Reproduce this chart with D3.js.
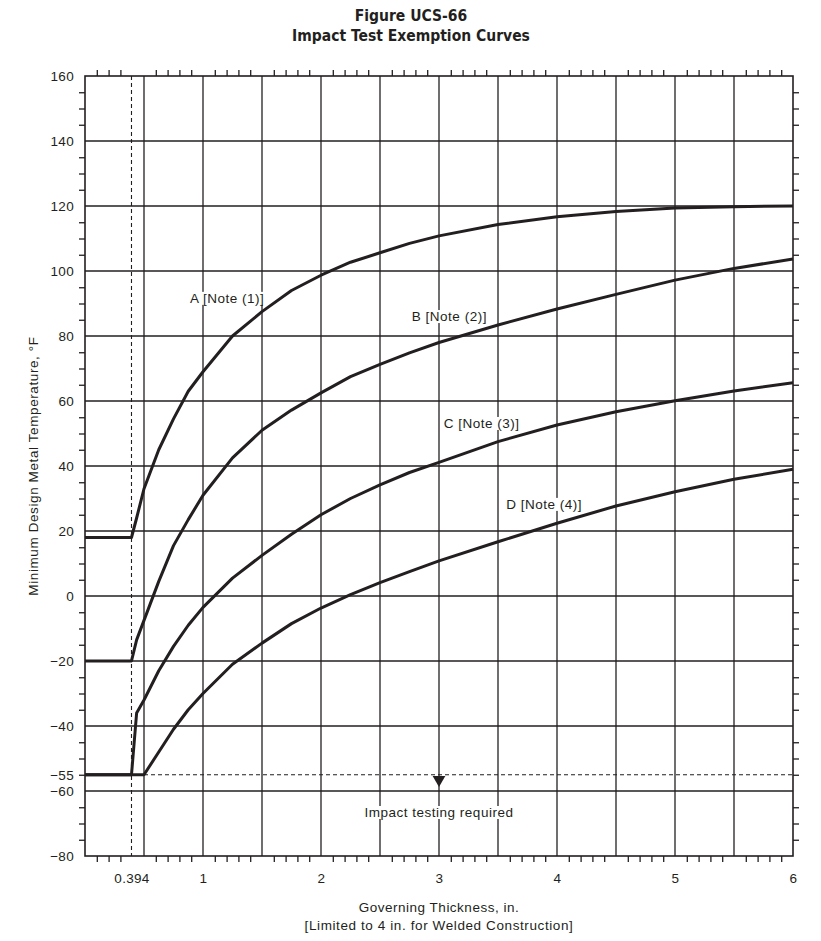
<!DOCTYPE html>
<html>
<head>
<meta charset="utf-8">
<script src="https://cdn.jsdelivr.net/npm/d3@7"></script>
<style>
  body { margin: 0; background: #fff; }
  svg text { font-family: "Liberation Sans", Arial, sans-serif; fill: #231f20; }
  .title { font-family: "Liberation Sans Narrow", "DejaVu Sans Condensed", sans-serif; font-weight: bold; font-size: 15.5px; }
  .grid line { stroke: #231f20; stroke-width: 1.3; }
  .curve { fill: none; stroke: #231f20; stroke-width: 3; stroke-linejoin: round; }
</style>
</head>
<body>
<svg width="821" height="941"></svg>
<script>
// thickness (in.) shared by all four curves
const thickness = [0, 0.394, 0.4375, 0.5, 0.625, 0.75, 0.875, 1, 1.25, 1.5, 1.75, 2, 2.25, 2.5, 2.75, 3, 3.5, 4, 4.5, 5, 5.5, 6];
// minimum design metal temperature (°F)
const curveA = [18, 18, 24, 33, 45, 54.5, 63, 69, 80, 87.5, 94, 98.7, 102.7, 105.6, 108.5, 110.8, 114.3, 116.7, 118.3, 119.4, 119.8, 120];
const curveB = [-20, -20, -13.5, -7.5, 4.5, 15.5, 23.5, 31, 42.5, 51, 57.2, 62.5, 67.5, 71.3, 74.8, 78, 83.4, 88.3, 92.8, 97.2, 100.8, 103.7];
const curveC = [-55, -55, -36, -32, -23, -15.5, -9, -3.5, 5.5, 12.5, 19, 25, 30, 34.2, 38, 41.1, 47.5, 52.6, 56.7, 60.1, 63.1, 65.6];
const curveD = [-55, -55, -55, -55, -48, -41, -35, -30, -21, -14.5, -8.5, -3.7, 0.4, 4.1, 7.5, 10.8, 16.7, 22.4, 27.7, 32.1, 35.9, 39];
const curveNames = ["A [Note (1)]", "B [Note (2)]", "C [Note (3)]", "D [Note (4)]"];
// where each curve's label starts: [thickness, temperature at baseline]
const labelAt = [[0.89, 90.2], [2.77, 84.6], [3.04, 51.7], [3.57, 26.8]];

const xTickVals = [0.394, 1, 2, 3, 4, 5, 6];
const yTickVals = [-80, -60, -55, -40, -20, 0, 20, 40, 60, 80, 100, 120, 140, 160];
const exemptLimit = -55;

const svg = d3.select("svg");
const margin = { top: 76, right: 28, bottom: 85, left: 85 };
const width = 821 - margin.left - margin.right;
const height = 941 - margin.top - margin.bottom;

const x = d3.scaleLinear().domain([0, 6]).range([0, width]);
const y = d3.scaleLinear().domain([-80, 160]).range([height, 0]);

const g = svg.append("g").attr("transform", `translate(${margin.left},${margin.top})`);

// title
svg.append("text").attr("class", "title").attr("x", 411).attr("y", 21)
    .attr("text-anchor", "middle").text("Figure UCS-66");
svg.append("text").attr("class", "title").attr("x", 411).attr("y", 41)
    .attr("text-anchor", "middle").text("Impact Test Exemption Curves");

// grid
const grid = g.append("g").attr("class", "grid");
grid.selectAll(".v").data(d3.range(0.5, 6, 0.5)).join("line")
    .attr("x1", d => x(d)).attr("x2", d => x(d)).attr("y1", 0).attr("y2", height);
grid.selectAll(".h").data(d3.range(-60, 160, 20)).join("line")
    .attr("class", "h")
    .attr("x1", 0).attr("x2", width).attr("y1", d => y(d)).attr("y2", d => y(d));

// minor ticks, pointing inward on all four sides
const minorX = d3.range(1, 60).map(i => i / 10).filter(d => Math.round(d * 10) % 5 !== 0 && Math.round(d * 10) !== 4);
const minorY = d3.range(-75, 160, 5).filter(d => d % 20 !== 0);
g.append("g").call(d3.axisTop(x).tickValues(minorX).tickSize(-6).tickFormat(""))
    .attr("transform", `translate(0,${height})`);
g.append("g").call(d3.axisBottom(x).tickValues(minorX).tickSize(-6).tickFormat(""));
g.append("g").call(d3.axisRight(y).tickValues(minorY).tickSize(-6).tickFormat(""));
g.append("g").call(d3.axisLeft(y).tickValues(minorY).tickSize(-6).tickFormat(""))
    .attr("transform", `translate(${width},0)`);
g.selectAll(".domain").remove();
g.selectAll(".tick line").attr("stroke", "#231f20").attr("stroke-width", 1.3);

// frame
g.append("rect").attr("width", width).attr("height", height)
    .attr("fill", "none").attr("stroke", "#231f20").attr("stroke-width", 1.6);

// tick labels
const xAxis = g.append("g").attr("transform", `translate(0,${height})`)
    .call(d3.axisBottom(x).tickValues(xTickVals).tickSize(0).tickPadding(17)
        .tickFormat(d => d === 0.394 ? "0.394" : d3.format("d")(d)));
const yAxis = g.append("g")
    .call(d3.axisLeft(y).tickValues(yTickVals).tickSize(0).tickPadding(11).tickFormat(d3.format("d")));
[xAxis, yAxis].forEach(a => {
    a.select(".domain").remove();
    a.selectAll("text").style("font-size", "13.5px").style("letter-spacing", "0.3px")
        .style("font-family", "Liberation Sans, Arial, sans-serif").attr("fill", "#231f20");
});

// dashed reference lines
g.append("line").attr("x1", x(0.394)).attr("x2", x(0.394)).attr("y1", 0).attr("y2", height)
    .attr("stroke", "#231f20").attr("stroke-width", 1.1).attr("stroke-dasharray", "4,3");
g.append("line").attr("x1", x(0.5)).attr("x2", width).attr("y1", y(exemptLimit)).attr("y2", y(exemptLimit))
    .attr("stroke", "#231f20").attr("stroke-width", 1.1).attr("stroke-dasharray", "4,3");

// curves
const series = [curveA, curveB, curveC, curveD];
const line = d3.line().x(d => x(d[0])).y(d => y(d[1]));
g.selectAll(".curve").data(series).join("path")
    .attr("class", "curve")
    .attr("d", s => line(thickness.map((t, i) => [t, s[i]])));

// labels with white backing so grid lines break behind them
function boxedLabel(tx, ty, txt, anchor) {
    const grp = g.append("g");
    const t = grp.append("text").attr("x", tx).attr("y", ty)
        .attr("text-anchor", anchor || "start")
        .style("font-size", "13.5px").style("letter-spacing", "0.5px").text(txt);
    const b = t.node().getBBox();
    grp.insert("rect", "text").attr("x", b.x - 2).attr("y", b.y + 1)
        .attr("width", b.width + 4).attr("height", b.height - 2).attr("fill", "#fff");
    return t;
}
curveNames.forEach((n, i) => boxedLabel(x(labelAt[i][0]), y(labelAt[i][1]), n));
boxedLabel(x(3), y(-68), "Impact testing required", "middle");

// arrow marker at -55 line
g.append("path")
    .attr("d", d3.symbol(d3.symbolTriangle, 70)())
    .attr("transform", `translate(${x(3)},${y(exemptLimit) + 5}) rotate(180)`)
    .attr("fill", "#231f20");

// axis titles
svg.append("text").attr("transform", `translate(38,${margin.top + height / 2}) rotate(-90)`)
    .attr("text-anchor", "middle").style("font-size", "13.5px").style("letter-spacing", "0.6px")
    .text("Minimum Design Metal Temperature, \u00b0F");
svg.append("text").attr("x", margin.left + width / 2).attr("y", 912)
    .attr("text-anchor", "middle").style("font-size", "13.5px").style("letter-spacing", "0.5px")
    .text("Governing Thickness, in.");
svg.append("text").attr("x", margin.left + width / 2).attr("y", 930)
    .attr("text-anchor", "middle").style("font-size", "13.5px").style("letter-spacing", "0.6px")
    .text("[Limited to 4 in. for Welded Construction]");
</script>
</body>
</html>
